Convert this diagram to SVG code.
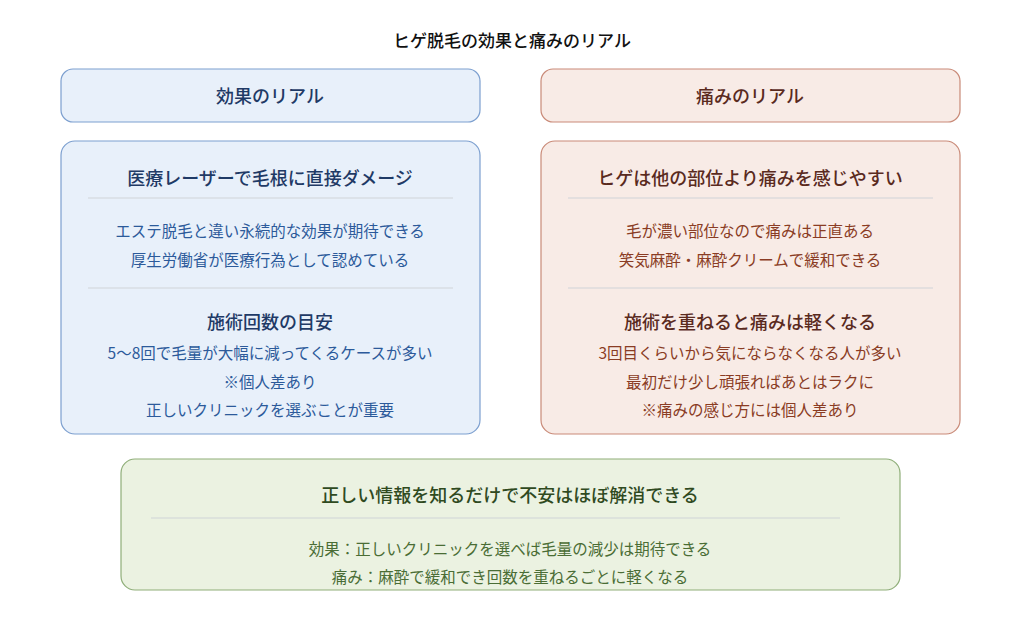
<svg xmlns="http://www.w3.org/2000/svg" width="1024" height="627" viewBox="0 0 1024 627">
<style>
text{font-family:"Noto Sans CJK JP","Noto Sans",sans-serif;text-anchor:middle}
.b{fill:#e8f0fa;stroke:#7c9fcf;stroke-width:1.2}
.r{fill:#f8ebe6;stroke:#c98a78;stroke-width:1.2}
.g{fill:#ebf2e1;stroke:#8fae79;stroke-width:1.2}
.sep{stroke:#cfd3d8;stroke-width:1.2}
.hb{fill:#1f3a66;font-size:18px;font-weight:500}
.tb{fill:#2c5a9a;font-size:15.5px}
.hr{fill:#5a2a1e;font-size:18px;font-weight:500}
.tr{fill:#8a3c24;font-size:15.5px}
.hg{fill:#2f4a1f;font-size:18px;font-weight:500}
.tg{fill:#4a6d35;font-size:15.5px}
</style>
<rect width="1024" height="627" fill="#fff"/>
<text x="512" y="47" font-size="17" font-weight="500" fill="#111">ヒゲ脱毛の効果と痛みのリアル</text>
<g id="effect-header"><rect class="b" x="61" y="69" width="419" height="53" rx="12"/><text class="hb" x="270" y="103">効果のリアル</text></g>
<g id="pain-header"><rect class="r" x="541" y="69" width="419" height="53" rx="12"/><text class="hr" x="750" y="103">痛みのリアル</text></g>
<g id="effect-body"><rect class="b" x="61" y="141" width="419" height="293" rx="14"/>
<text class="hb" x="270" y="185">医療レーザーで毛根に直接ダメージ</text>
<line class="sep" x1="88" y1="198" x2="453" y2="198"/>
<text class="tb" x="270" y="237">エステ脱毛と違い永続的な効果が期待できる</text>
<text class="tb" x="270" y="266">厚生労働省が医療行為として認めている</text>
<line class="sep" x1="88" y1="288" x2="453" y2="288"/>
<text class="hb" x="270" y="329">施術回数の目安</text>
<text class="tb" x="270" y="359">5〜8回で毛量が大幅に減ってくるケースが多い</text>
<text class="tb" x="270" y="388">※個人差あり</text>
<text class="tb" x="270" y="416">正しいクリニックを選ぶことが重要</text></g>
<g id="pain-body"><rect class="r" x="541" y="141" width="419" height="293" rx="14"/>
<text class="hr" x="750" y="185">ヒゲは他の部位より痛みを感じやすい</text>
<line class="sep" x1="568" y1="198" x2="933" y2="198"/>
<text class="tr" x="750" y="237">毛が濃い部位なので痛みは正直ある</text>
<text class="tr" x="750" y="266">笑気麻酔・麻酔クリームで緩和できる</text>
<line class="sep" x1="568" y1="288" x2="933" y2="288"/>
<text class="hr" x="750" y="329">施術を重ねると痛みは軽くなる</text>
<text class="tr" x="750" y="359">3回目くらいから気にならなくなる人が多い</text>
<text class="tr" x="750" y="388">最初だけ少し頑張ればあとはラクに</text>
<text class="tr" x="750" y="416">※痛みの感じ方には個人差あり</text></g>
<g id="summary"><rect class="g" x="121" y="459" width="779" height="131" rx="14"/>
<text class="hg" x="510" y="502">正しい情報を知るだけで不安はほぼ解消できる</text>
<line class="sep" x1="151" y1="518" x2="840" y2="518"/>
<text class="tg" x="510" y="555">効果：正しいクリニックを選べば毛量の減少は期待できる</text>
<text class="tg" x="510" y="583">痛み：麻酔で緩和でき回数を重ねるごとに軽くなる</text></g>
<g id="connectors"/>
</svg>
